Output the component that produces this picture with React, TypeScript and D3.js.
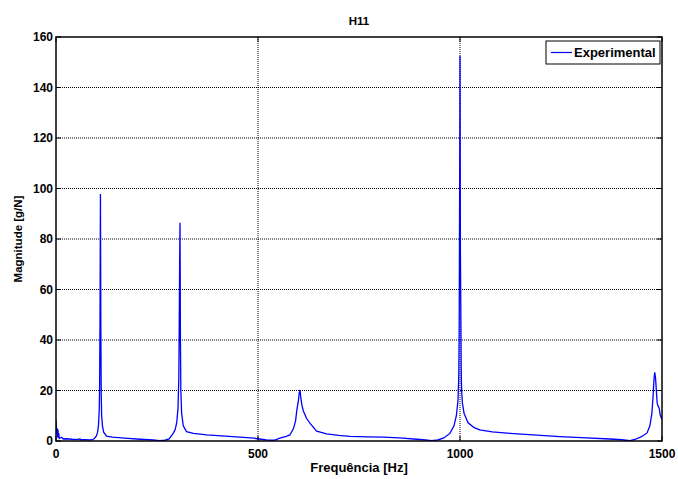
import React from "react";
import * as d3 from "d3";

const freq = [
  0, 1, 2, 3, 4, 5, 6, 7, 8, 10, 14, 18, 25, 40, 55, 59, 61, 70, 84, 90, 95, 100, 103, 105, 107, 108, 109, 110, 111, 112, 113, 115, 118, 125, 140, 170, 208, 240, 257, 270, 280, 290, 295, 299, 302, 304, 305, 306, 307, 308, 309, 311, 315, 323, 340, 373, 410, 455, 490, 521, 540, 554, 570, 579, 588, 593, 596, 600, 602, 604, 606, 609, 612, 620, 629, 645, 670, 700, 728, 770, 810, 850, 893, 915, 930, 945, 960, 975, 985, 991, 995, 997, 998, 999, 1000, 1001, 1002, 1003, 1004, 1006, 1010, 1020, 1035, 1049, 1080, 1124, 1180, 1247, 1300, 1371, 1400, 1421, 1435, 1450, 1463, 1470, 1475, 1478, 1480, 1482, 1484, 1486, 1488, 1490, 1493, 1496, 1500,
];
const magnitude = [
  8.5, 4, 2.5, 5, 1.5, 4.5, 1.2, 3, 1, 1.2, 1.5, 0.8, 0.9, 0.7, 0.6, 0.9, 0.5, 0.5, 0.4, 0.5, 1.0, 2.0, 3.5, 6, 12, 22, 50, 97.8, 45, 18, 10, 6, 3.5, 1.9, 1.5, 1.1, 0.7, 0.4, 0.1, 0.3, 0.8, 3, 4.5, 7.5, 13, 25, 45, 70, 86.4, 40, 20, 11, 6, 3.7, 3, 2.4, 2.0, 1.5, 1.1, 0.4, 0.3, 1.1, 1.8, 2.4, 5, 8, 12, 16, 19, 20.2, 17, 14, 12, 9, 7, 3.9, 2.8, 2.2, 1.8, 1.6, 1.5, 1.2, 0.7, 0.4, 0.1, 0.4, 1.2, 3, 6, 10, 16, 26, 45, 95, 152.5, 75, 53, 28, 20, 15, 11, 7.2, 5.3, 4.4, 3.6, 3.0, 2.4, 1.7, 1.3, 0.8, 0.5, 0.1, 0.7, 1.8, 3.2, 6, 11, 18, 24, 27.2, 25, 20, 15, 14, 13, 10, 8.5, 7.5,
];

const xTicks = [0, 500, 1000, 1500];
const yTicks = [0, 20, 40, 60, 80, 100, 120, 140, 160];
const xGrid = [500, 1000];
const yGrid = [20, 40, 60, 80, 100, 120, 140];

const titleText = "H11";
const xLabel = "Frequência [Hz]";
const yLabel = "Magnitude [g/N]";
const legendLabel = "Experimental";

export default function App() {
  const W = 678;
  const H = 479;
  const left = 56, right = 662, top = 37, bottom = 441;
  const x = d3.scaleLinear().domain([0, 1500]).range([left, right]);
  const y = d3.scaleLinear().domain([0, 160]).range([bottom, top]);
  const pts: [number, number][] = freq.map((f, i) => [f, magnitude[i]]);
  const line = d3
    .line<[number, number]>()
    .x((d) => x(d[0]))
    .y((d) => y(d[1]));
  const font = "Arial, 'Liberation Sans', Helvetica, sans-serif";
  return (
    <svg
      width={W}
      height={H}
      style={{ position: "absolute", left: 0, top: 0, background: "#fff" }}
      fontFamily={font}
    >
      <rect x={0} y={0} width={W} height={H} fill="#fff" />
      {xGrid.map((v) => (
        <line key={"gx" + v} x1={x(v)} x2={x(v)} y1={top} y2={bottom} stroke="#000" strokeWidth={1} strokeDasharray="1,1" />
      ))}
      {yGrid.map((v) => (
        <line key={"gy" + v} x1={left} x2={right} y1={y(v)} y2={y(v)} stroke="#000" strokeWidth={1} strokeDasharray="1,1" />
      ))}
      <defs>
        <clipPath id="plotclip">
          <rect x={left} y={top} width={right - left} height={bottom - top} />
        </clipPath>
      </defs>
      <path d={line(pts) || ""} fill="none" stroke="#0000ff" strokeWidth={1.3} clipPath="url(#plotclip)" />
      {xTicks.map((v) => (
        <g key={"tx" + v}>
          <line x1={x(v)} x2={x(v)} y1={bottom} y2={bottom - 5} stroke="#000" strokeWidth={1} />
          <line x1={x(v)} x2={x(v)} y1={top} y2={top + 5} stroke="#000" strokeWidth={1} />
          <text x={x(v)} y={bottom + 17} textAnchor="middle" fontSize={12} fontWeight="bold">
            {v}
          </text>
        </g>
      ))}
      {yTicks.map((v) => (
        <g key={"ty" + v}>
          <line x1={left} x2={left + 5} y1={y(v)} y2={y(v)} stroke="#000" strokeWidth={1} />
          <line x1={right} x2={right - 5} y1={y(v)} y2={y(v)} stroke="#000" strokeWidth={1} />
          <text x={left - 3} y={y(v) + 4} textAnchor="end" fontSize={12} fontWeight="bold">
            {v}
          </text>
        </g>
      ))}
      <rect x={left} y={top} width={right - left} height={bottom - top} fill="none" stroke="#000" strokeWidth={1.5} />
      <text x={(left + right) / 2} y={25} textAnchor="middle" fontSize={11.5} fontWeight="bold">
        {titleText}
      </text>
      <text x={(left + right) / 2} y={472} textAnchor="middle" fontSize={13} fontWeight="bold">
        {xLabel}
      </text>
      <text
        transform={`translate(22, ${(top + bottom) / 2}) rotate(-90)`}
        textAnchor="middle"
        fontSize={11.5}
        fontWeight="bold"
      >
        {yLabel}
      </text>
      <g>
        <rect x={546} y={41} width={114} height={23} fill="#fff" stroke="#000" strokeWidth={1} />
        <line x1={551} x2={572} y1={52.5} y2={52.5} stroke="#0000ff" strokeWidth={1.2} />
        <text x={574} y={57} fontSize={13} fontWeight="bold">
          {legendLabel}
        </text>
      </g>
    </svg>
  );
}
